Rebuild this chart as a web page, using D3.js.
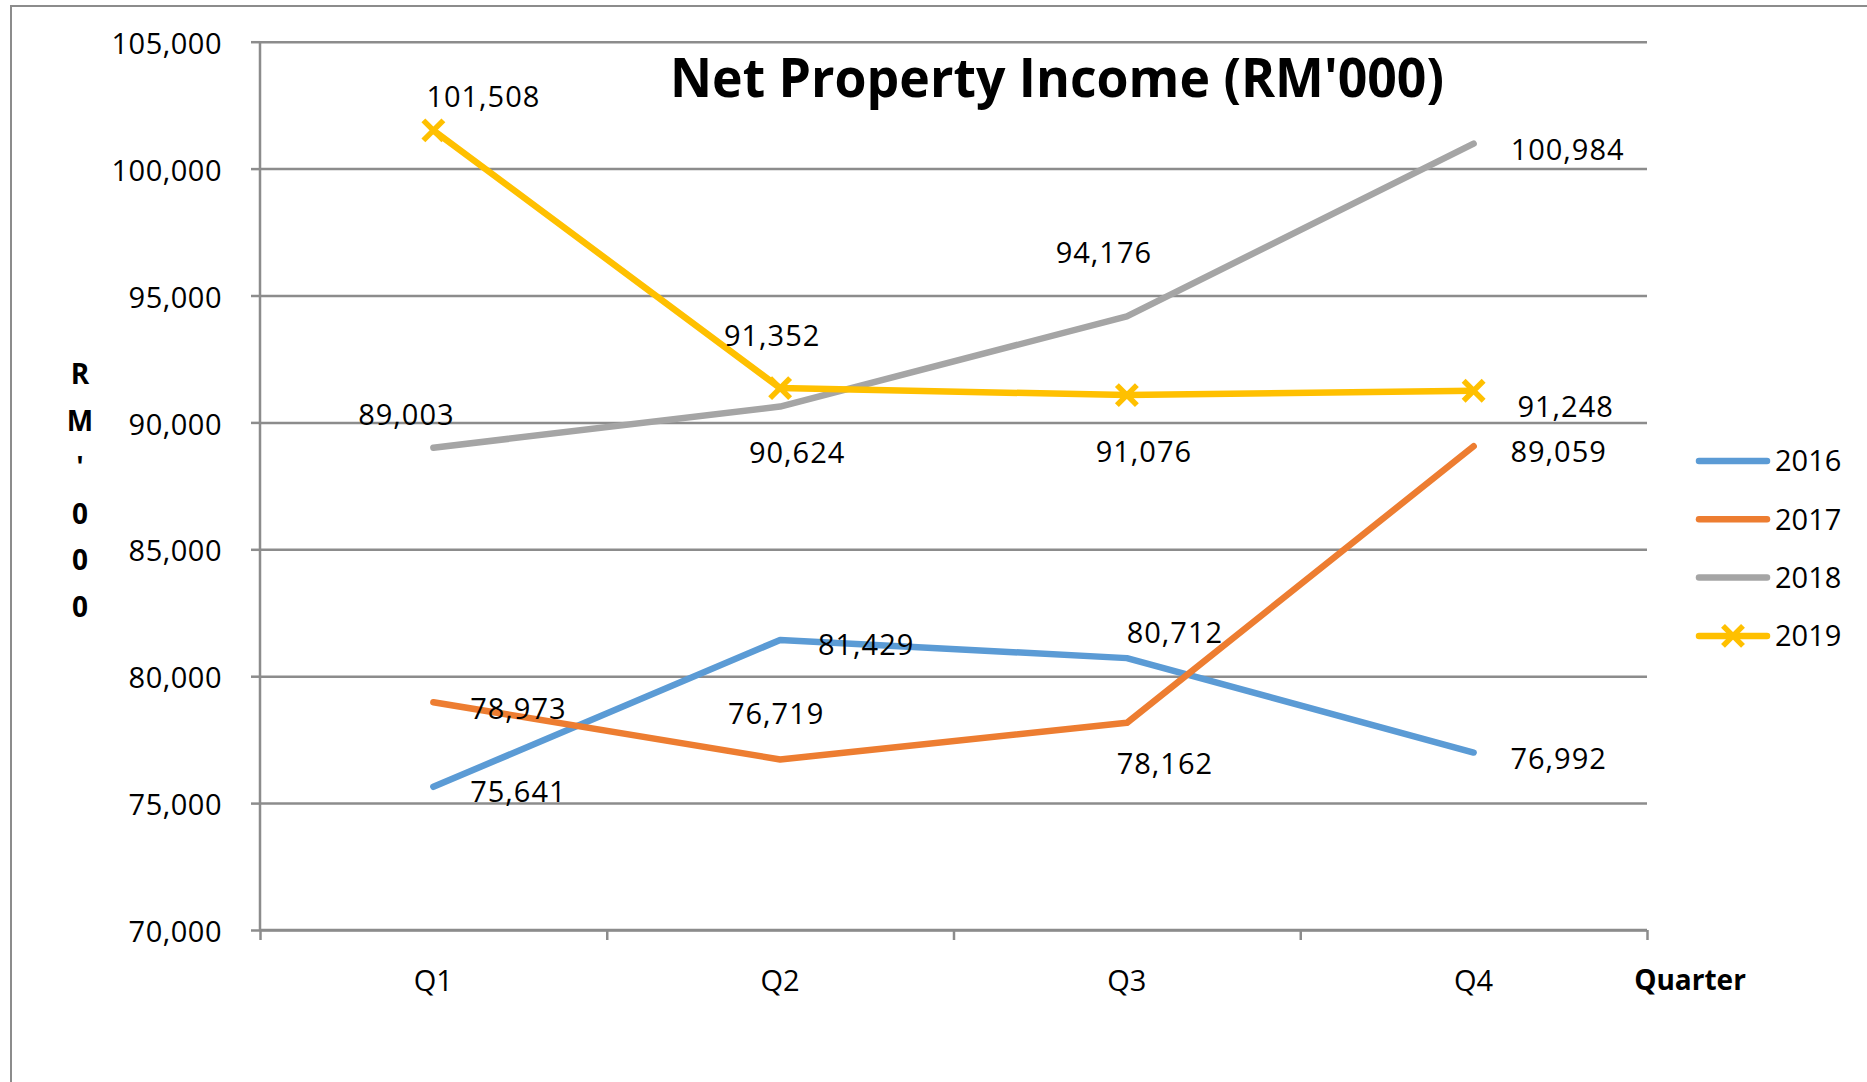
<!DOCTYPE html>
<html>
<head>
<meta charset="utf-8">
<script src="https://cdn.jsdelivr.net/npm/d3@7"></script>
<style>
  body { margin: 0; background: #fff; }
  text { font-family: "Open Sans", "Noto Sans", sans-serif; fill: #000; }
</style>
</head>
<body>
<div id="chart"></div>
<script>
const quarters = ["Q1", "Q2", "Q3", "Q4"];
const years = ["2016", "2017", "2018", "2019"];
const npi2016 = [75641, 81429, 80712, 76992];
const npi2017 = [78973, 76719, 78162, 89059];
const npi2018 = [89003, 90624, 94176, 100984];
const npi2019 = [101508, 91352, 91076, 91248];
const yTicks = [70000, 75000, 80000, 85000, 90000, 95000, 100000, 105000];
const yTitle = ["R", "M", "'", "0", "0", "0"];

const colors = { "2016": "#5B9BD5", "2017": "#ED7D31", "2018": "#A5A5A5", "2019": "#FFC000" };
const withMarker = { "2019": true };

// where Excel put each data label, relative to its point (px)
const labelShift = {
  "2016": [[85, 5], [86, 5], [48, -26], [85, 6]],
  "2017": [[85, 6], [-4, -46], [38, 41], [85, 5]],
  "2018": [[-27, -33], [17, 46], [-23, -64], [94, 6]],
  "2019": [[50, -34], [-8, -53], [17, 56], [92, 16]]
};

const series = [npi2016, npi2017, npi2018, npi2019].map((values, i) => ({
  year: years[i],
  values: values.map((v, j) => ({ q: quarters[j], v, j }))
}));

const fullWidth = 1867;
const fullHeight = 1082;
const margin = { top: 41.7, left: 260 };
const width = 1387;
const height = 888.3;
const gridColor = "#8c8c8c";
const labelSize = "29px";

const root = d3
  .select("#chart")
  .append("svg")
  .attr("width", fullWidth)
  .attr("height", fullHeight);

// chart area frame (runs off the right and bottom edges)
root
  .append("rect")
  .attr("x", 11)
  .attr("y", 6)
  .attr("width", fullWidth)
  .attr("height", fullHeight)
  .style("fill", "none")
  .style("stroke", gridColor)
  .style("stroke-width", 2);

const svg = root.append("g").attr("transform", `translate(${margin.left}, ${margin.top})`);

const xScale = d3.scaleBand().domain(quarters).range([0, width]).padding(0);
const xEdge = d3.scaleLinear().domain([0, quarters.length]).range([0, width]);
const yScale = d3.scaleLinear().domain([70000, 105000]).range([height, 0]);
const xMid = q => xScale(q) + xScale.bandwidth() / 2;

// gridlines
svg
  .append("g")
  .call(d3.axisLeft(yScale).tickValues(yTicks).tickSize(-width).tickFormat(""))
  .call(g => g.select(".domain").remove())
  .call(g => g.selectAll("line").style("stroke", gridColor).style("stroke-width", 2.5));

// y axis
const yAxis = svg
  .append("g")
  .call(d3.axisLeft(yScale).tickValues(yTicks).tickSize(9).tickPadding(29).tickFormat(d3.format(",")));
yAxis.select(".domain").style("stroke", gridColor).style("stroke-width", 2.5).attr("d", `M0,0V${height}`);
yAxis.selectAll("line").style("stroke", gridColor).style("stroke-width", 2.5);
yAxis.selectAll("text").style("font-size", labelSize).style("letter-spacing", "0.5px").attr("dy", "0.4em");

// x axis: ticks between categories, labels at centres
const xTickAxis = svg
  .append("g")
  .attr("transform", `translate(0, ${height})`)
  .call(d3.axisBottom(xEdge).tickValues(d3.range(quarters.length + 1)).tickSize(10).tickFormat(""));
xTickAxis.select(".domain").style("stroke", gridColor).style("stroke-width", 2.5).attr("d", `M0,0H${width}`);
xTickAxis.selectAll("line").style("stroke", gridColor).style("stroke-width", 2.5);

const xAxis = svg
  .append("g")
  .attr("transform", `translate(0, ${height})`)
  .call(d3.axisBottom(xScale).tickSize(0).tickPadding(40));
xAxis.select(".domain").remove();
xAxis.selectAll("text").style("font-size", labelSize);

// lines
const line = d3
  .line()
  .x(d => xMid(d.q))
  .y(d => yScale(d.v));

svg
  .selectAll(".series")
  .data(series)
  .join("path")
  .attr("class", "series")
  .attr("d", d => line(d.values))
  .style("fill", "none")
  .style("stroke", d => colors[d.year])
  .style("stroke-width", 6.5)
  .style("stroke-linejoin", "round")
  .style("stroke-linecap", "round");

const xMark = "M-10,-10L10,10M-10,10L10,-10";

series
  .filter(s => withMarker[s.year])
  .forEach(s => {
    svg
      .selectAll(`.mark-${s.year}`)
      .data(s.values)
      .join("path")
      .attr("class", `mark-${s.year}`)
      .attr("transform", d => `translate(${xMid(d.q)}, ${yScale(d.v)})`)
      .attr("d", xMark)
      .style("fill", "none")
      .style("stroke", colors[s.year])
      .style("stroke-width", 5.5);
  });

// data labels
series.forEach(s => {
  svg
    .selectAll(`.lbl-${s.year}`)
    .data(s.values)
    .join("text")
    .attr("class", `lbl-${s.year}`)
    .attr("x", d => xMid(d.q) + labelShift[s.year][d.j][0])
    .attr("y", d => yScale(d.v) + labelShift[s.year][d.j][1])
    .attr("dy", "0.36em")
    .attr("text-anchor", "middle")
    .style("font-size", labelSize)
    .style("letter-spacing", "1px")
    .text(d => d3.format(",")(d.v));
});

// title
root
  .append("text")
  .attr("x", 1057)
  .attr("y", 97)
  .attr("text-anchor", "middle")
  .attr("textLength", 774)
  .attr("lengthAdjust", "spacingAndGlyphs")
  .style("font-size", "53px")
  .style("font-weight", "bold")
  .text("Net Property Income (RM'000)");

// y axis title, stacked letters
root
  .append("g")
  .selectAll("text")
  .data(yTitle)
  .join("text")
  .attr("x", 80)
  .attr("y", (d, i) => 384 + i * 46.5)
  .attr("text-anchor", "middle")
  .style("font-size", "28px")
  .style("font-weight", "bold")
  .text(d => d);

// x axis title
root
  .append("text")
  .attr("x", 1690)
  .attr("y", 990)
  .attr("text-anchor", "middle")
  .style("font-size", "28px")
  .style("font-weight", "bold")
  .text("Quarter");

// legend
const legend = root
  .append("g")
  .attr("transform", "translate(1699, 461)")
  .selectAll("g")
  .data(series)
  .join("g")
  .attr("transform", (d, i) => `translate(0, ${i * 58.3})`);

legend
  .append("line")
  .attr("x1", 0)
  .attr("x2", 68)
  .style("stroke", d => colors[d.year])
  .style("stroke-width", 6.5)
  .style("stroke-linecap", "round");

legend
  .filter(d => withMarker[d.year])
  .append("path")
  .attr("transform", "translate(34, 0)")
  .attr("d", xMark)
  .style("fill", "none")
  .style("stroke", d => colors[d.year])
  .style("stroke-width", 5.5);

legend
  .append("text")
  .attr("x", 76)
  .attr("dy", "0.36em")
  .style("font-size", labelSize)
  .text(d => d.year);
</script>
</body>
</html>
